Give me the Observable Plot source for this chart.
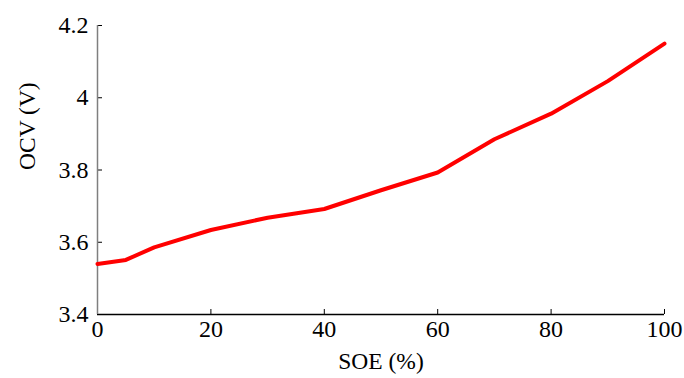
<!DOCTYPE html>
<html>
<head>
<meta charset="utf-8">
<script src="https://cdn.jsdelivr.net/npm/d3@7"></script>
<script src="https://cdn.jsdelivr.net/npm/@observablehq/plot@0.6"></script>
<style>
  html, body { margin: 0; padding: 0; background: #fff; }
  #chart svg { display: block; }
</style>
</head>
<body>
<div id="chart"></div>
<script>
const soe = [0, 5, 10, 20, 30, 40, 50, 60, 70, 80, 90, 100];
const ocv = [3.540, 3.551, 3.586, 3.634, 3.668, 3.692, 3.744, 3.793, 3.885, 3.956, 4.046, 4.150];
const xTicks = [0, 20, 40, 60, 80, 100];
const yTicks = [3.4, 3.6, 3.8, 4.0, 4.2];

const data = soe.map((s, i) => ({soe: s, ocv: ocv[i]}));

const FONT = "'Liberation Serif', 'Times New Roman', serif";
const FS = 24;

const chart = Plot.plot({
  width: 684,
  height: 378,
  marginLeft: 97,
  marginRight: 20,
  marginTop: 25,
  marginBottom: 64,
  style: {fontFamily: FONT, color: "#000", background: "#fff"},
  x: {domain: [0, 100]},
  y: {domain: [3.4, 4.2]},
  marks: [
    Plot.axisX({ticks: xTicks, tickSize: -5, stroke: "#000", text: null, label: null}),
    Plot.axisY({ticks: yTicks, tickSize: -5, stroke: "#000", text: null, label: null}),
    Plot.text(xTicks, {x: d => d, frameAnchor: "bottom", dy: 22, text: d => String(d), fontSize: FS, fontFamily: FONT, fill: "#000"}),
    Plot.text(yTicks, {y: d => d, frameAnchor: "left", dx: -9, textAnchor: "end", text: d => String(+d.toFixed(1)), fontSize: FS, fontFamily: FONT, fill: "#000"}),
    Plot.text(["SOE (%)"], {frameAnchor: "bottom", dy: 54, fontSize: 23.5, fontFamily: FONT, fill: "#000"}),
    Plot.text(["OCV (V)"], {frameAnchor: "left", dx: -70, rotate: -90, fontSize: 23.5, fontFamily: FONT, fill: "#000"}),
    Plot.ruleY([3.4], {stroke: "#000", strokeWidth: 1.5}),
    Plot.ruleX([0], {stroke: "#7f7f7f", strokeWidth: 1.5}),
    Plot.line(data, {x: "soe", y: "ocv", stroke: "#ff0000", strokeWidth: 4})
  ]
});
document.getElementById("chart").appendChild(chart);
</script>
</body>
</html>
